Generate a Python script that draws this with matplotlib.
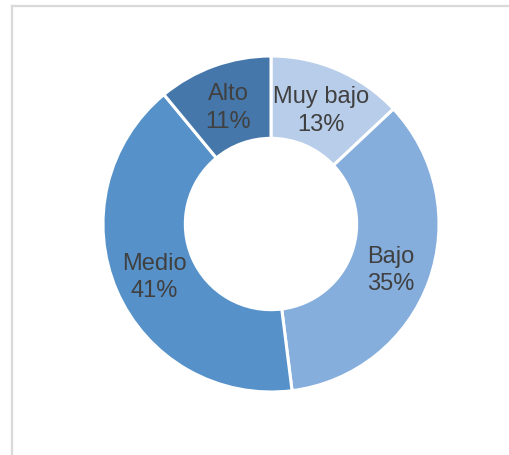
import matplotlib.pyplot as plt
from matplotlib.lines import Line2D
import numpy as np

plt.rcParams['font.family'] = ['Liberation Sans', 'DejaVu Sans']

niveles = ["Muy bajo", "Bajo", "Medio", "Alto"]
porcentajes = [13, 35, 41, 11]
colores = ["#B7CDE9", "#85AEDD", "#5692C9", "#4677AA"]

W, H = 510, 455
fig = plt.figure(figsize=(W / 100, H / 100), dpi=100)

# marco gris (borde izquierdo y superior visibles)
fig.add_artist(Line2D([12.5 / W, 12.5 / W], [0, 1 - 5.5 / H], color="#D9D9D9", lw=1.6))
fig.add_artist(Line2D([12.5 / W, 1], [1 - 5.5 / H, 1 - 5.5 / H], color="#D9D9D9", lw=1.6))

cx, cy, r = 271, 224, 168
ax = fig.add_axes([(cx - r) / W, (H - cy - r) / H, 2 * r / W, 2 * r / H])

wedges, texts = ax.pie(porcentajes, colors=colores, startangle=90, counterclock=False,
                       radius=1, wedgeprops=dict(width=0.49, edgecolor="white", linewidth=2.2))

ang0 = 90
for nombre, p in zip(niveles, porcentajes):
    mid = np.deg2rad(ang0 - p * 3.6 / 2)
    ang0 -= p * 3.6
    x, y = 0.755 * np.cos(mid), 0.755 * np.sin(mid) - 0.02
    ax.text(x, y, f"{nombre}\n{p}%", ha="center", va="center", fontsize=17,
            color="#404040", linespacing=1.3)

ax.set_xlim(-1, 1)
ax.set_ylim(-1, 1)
ax.set_aspect("equal")
ax.axis("off")

fig.savefig("out.png", dpi=100)
